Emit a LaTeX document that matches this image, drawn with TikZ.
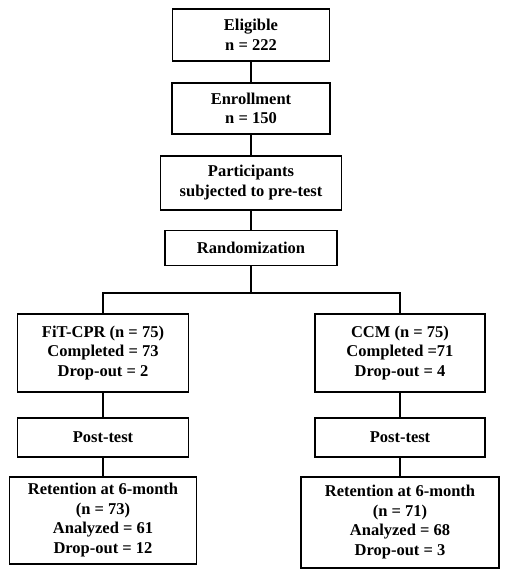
\documentclass[tikz,border=0pt]{standalone}
\usepackage{fontspec}
\setmainfont{Liberation Serif}
\usepackage{tikz}
\usetikzlibrary{positioning}

\begin{document}
\begin{tikzpicture}[
			x=1pt, y=1pt,
			node distance=20pt and 0pt,
			every node/.style={draw, rectangle, line width=1.8pt, align=center, inner sep=2pt,
				font=\fontsize{16.5}{19.5}\selectfont\bfseries},
			link/.style={line width=1.8pt}
			]
			\useasboundingbox (0,0) rectangle (509,-576);
			
			% Nodes
			\node (eligible) [minimum width=157pt, minimum height=52pt] at (251,-35) {Eligible\\n = 222};
			\node (enroll) [minimum width=158pt, minimum height=51pt, below=of eligible] {Enrollment\\n = 150};
			\node (pretest) [minimum width=181pt, minimum height=54pt, below=of enroll] {Participants\\subjected to pre-test};
			\node (random) [minimum width=172pt, minimum height=35pt, below=19pt of pretest] {Randomization};
			
			\node (fit) [minimum width=171pt, minimum height=78pt] at (103,-353) {FiT-CPR (n = 75)\\Completed = 73\\Drop-out = 2};
			\node (ccm) [minimum width=170pt, minimum height=78pt] at (400,-353) {CCM (n = 75)\\Completed =71\\Drop-out = 4};
			
			\node (fitpost) [minimum width=171pt, minimum height=39pt, below=24pt of fit] {Post-test};
			\node (ccmpost) [minimum width=170pt, minimum height=39pt, below=24pt of ccm] {Post-test};
			
			\node (fitret) [minimum width=187pt, minimum height=87pt, below=18pt of fitpost] {Retention at 6-month\\(n = 73)\\Analyzed = 61\\Drop-out = 12};
			\node (ccmret) [minimum width=198pt, minimum height=91pt, below=18pt of ccmpost] {Retention at 6-month\\(n = 71)\\Analyzed = 68\\Drop-out = 3};
			
			% Connections
			\draw [link] (eligible) -- (enroll);
			\draw [link] (enroll) -- (pretest);
			\draw [link] (pretest) -- (random);
			\draw [link] (random.south) -- ++(0,-27) coordinate (split);
			\draw [link] (fit.north) |- (split) -| (ccm.north);
			\draw [link] (fit) -- (fitpost);
			\draw [link] (fitpost) -- (fitret);
			\draw [link] (ccm) -- (ccmpost);
			\draw [link] (ccmpost) -- (ccmret);
			
		\end{tikzpicture}
\end{document}
